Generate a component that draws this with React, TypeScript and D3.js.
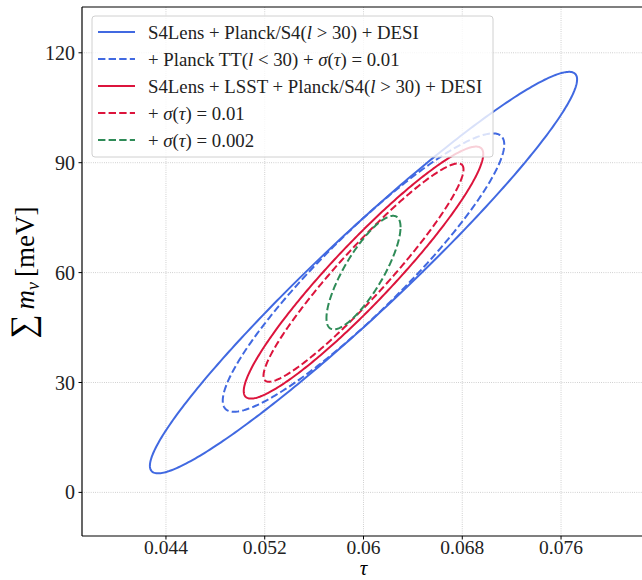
import * as d3 from 'd3';
import React from 'react';

// ellipse centres and marginal half-widths
const tauCenter = 0.06;
const mnuCenter = 60;
const sigmaTau = [0.0173, 0.0114, 0.0097, 0.0081, 0.003];
const sigmaMnu = [54.8, 38.0, 34.4, 29.8, 15.5];
const corr = [0.962, 0.92, 0.94, 0.945, 0.8];
const colors = ['#4169E1', '#4169E1', '#DC143C', '#DC143C', '#2E8B57'];
const dashed = [false, true, false, true, true];

// legend labels: [text, italic]
const labels: [string, boolean][][] = [
  [['S4Lens + Planck/S4(', false], ['l', true], [' > 30) + DESI', false]],
  [['+ Planck TT(', false], ['l', true], [' < 30) + ', false], ['σ', true], ['(', false], ['τ', true], [') = 0.01', false]],
  [['S4Lens + LSST + Planck/S4(', false], ['l', true], [' > 30) + DESI', false]],
  [['+ ', false], ['σ', true], ['(', false], ['τ', true], [') = 0.01', false]],
  [['+ ', false], ['σ', true], ['(', false], ['τ', true], [') = 0.002', false]],
];

const xTicks = [0.044, 0.052, 0.06, 0.068, 0.076];
const xTickLabels = ['0.044', '0.052', '0.06', '0.068', '0.076'];
const yTicks = [0, 30, 60, 90, 120];

const W = 642;
const H = 580;
const left = 82, right = 645, top = 7, bottom = 536;
const font = '"Liberation Serif", "DejaVu Serif", serif';

const App = () => {
  const x = d3.scaleLinear().domain([0.0372, 0.0828]).range([left, right]);
  const y = d3.scaleLinear().domain([-11.9, 132.5]).range([bottom, top]);

  const line = d3.line<[number, number]>().x(d => x(d[0])).y(d => y(d[1])).curve(d3.curveLinearClosed);
  const angles = d3.range(0, 2 * Math.PI, Math.PI / 180);
  const ellipse = (i: number) => {
    const a = sigmaTau[i], b = sigmaMnu[i], r = corr[i];
    const pts: [number, number][] = angles.map(t => [
      tauCenter + a * Math.cos(t),
      mnuCenter + b * (r * Math.cos(t) + Math.sqrt(1 - r * r) * Math.sin(t)),
    ]);
    return line(pts) || '';
  };

  const legX = 92, legY = 16, legW = 401, legH = 141, rowH = 27;

  return (
    <svg width={W} height={H} style={{ position: 'absolute', left: 0, top: 0, background: '#fff' }} fontFamily={font}>
      <defs>
        <clipPath id="plot">
          <rect x={left} y={top} width={right - left} height={bottom - top} />
        </clipPath>
      </defs>
      <rect width={W} height={H} fill="#fff" />
      {/* grid */}
      {xTicks.map(t => (
        <line key={'gx' + t} x1={x(t)} x2={x(t)} y1={top} y2={bottom} stroke="#b8b8b8" strokeWidth={0.8} strokeDasharray="0.8 1.4" />
      ))}
      {yTicks.map(t => (
        <line key={'gy' + t} x1={left} x2={right} y1={y(t)} y2={y(t)} stroke="#b8b8b8" strokeWidth={0.8} strokeDasharray="0.8 1.4" />
      ))}
      {/* ellipses */}
      <g clipPath="url(#plot)">
        {sigmaTau.map((_, i) => (
          <path key={i} d={ellipse(i)} fill="none" stroke={colors[i]} strokeWidth={2}
            strokeDasharray={dashed[i] ? '7.4 3.2' : undefined} />
        ))}
      </g>
      {/* spines */}
      <line x1={left} x2={left} y1={top} y2={bottom} stroke="#000" strokeWidth={1.2} />
      <line x1={left} x2={right} y1={bottom} y2={bottom} stroke="#000" strokeWidth={1.2} />
      <line x1={left} x2={right} y1={top} y2={top} stroke="#000" strokeWidth={1.2} />
      <line x1={right} x2={right} y1={top} y2={bottom} stroke="#000" strokeWidth={1.2} />
      {/* ticks */}
      {xTicks.map((t, i) => (
        <g key={'tx' + t} transform={`translate(${x(t)},${bottom})`}>
          <line y2={3.5} stroke="#000" strokeWidth={1} />
          <text y={18} textAnchor="middle" fontSize={19.5} fill="#222">{xTickLabels[i]}</text>
        </g>
      ))}
      {yTicks.map(t => (
        <g key={'ty' + t} transform={`translate(${left},${y(t)})`}>
          <line x2={-3.5} stroke="#000" strokeWidth={1} />
          <text x={-7} dy="0.35em" textAnchor="end" fontSize={20} fill="#222">{t}</text>
        </g>
      ))}
      {/* axis labels */}
      <text x={x(0.06)} y={575} textAnchor="middle" fontSize={21} fontStyle="italic">τ</text>
      <text transform={`translate(34,${y(60)}) rotate(-90)`} textAnchor="middle" fontSize={27}>
        <tspan fontSize={34}>∑</tspan>
        <tspan dx={5} fontStyle="italic">m</tspan>
        <tspan fontStyle="italic" fontSize={18} dy={5}>ν</tspan>
        <tspan dy={-5} dx={5}>[meV]</tspan>
      </text>
      {/* legend */}
      <rect x={legX} y={legY} width={legW} height={legH} rx={3} fill="#fff" fillOpacity={0.8} stroke="#d0d0d0" strokeWidth={1} />
      {labels.map((segs, i) => {
        const cy = legY + 16 + i * rowH;
        return (
          <g key={'leg' + i}>
            <line x1={98} x2={135} y1={cy} y2={cy} stroke={colors[i]} strokeWidth={2}
              strokeDasharray={dashed[i] ? '7.4 3.2' : undefined} />
            <text x={148} y={cy} dy="0.35em" fontSize={18.8} fill="#222">
              {segs.map((s, j) => (
                <tspan key={j} fontStyle={s[1] ? 'italic' : 'normal'}>{s[0]}</tspan>
              ))}
            </text>
          </g>
        );
      })}
    </svg>
  );
};

export default App;
